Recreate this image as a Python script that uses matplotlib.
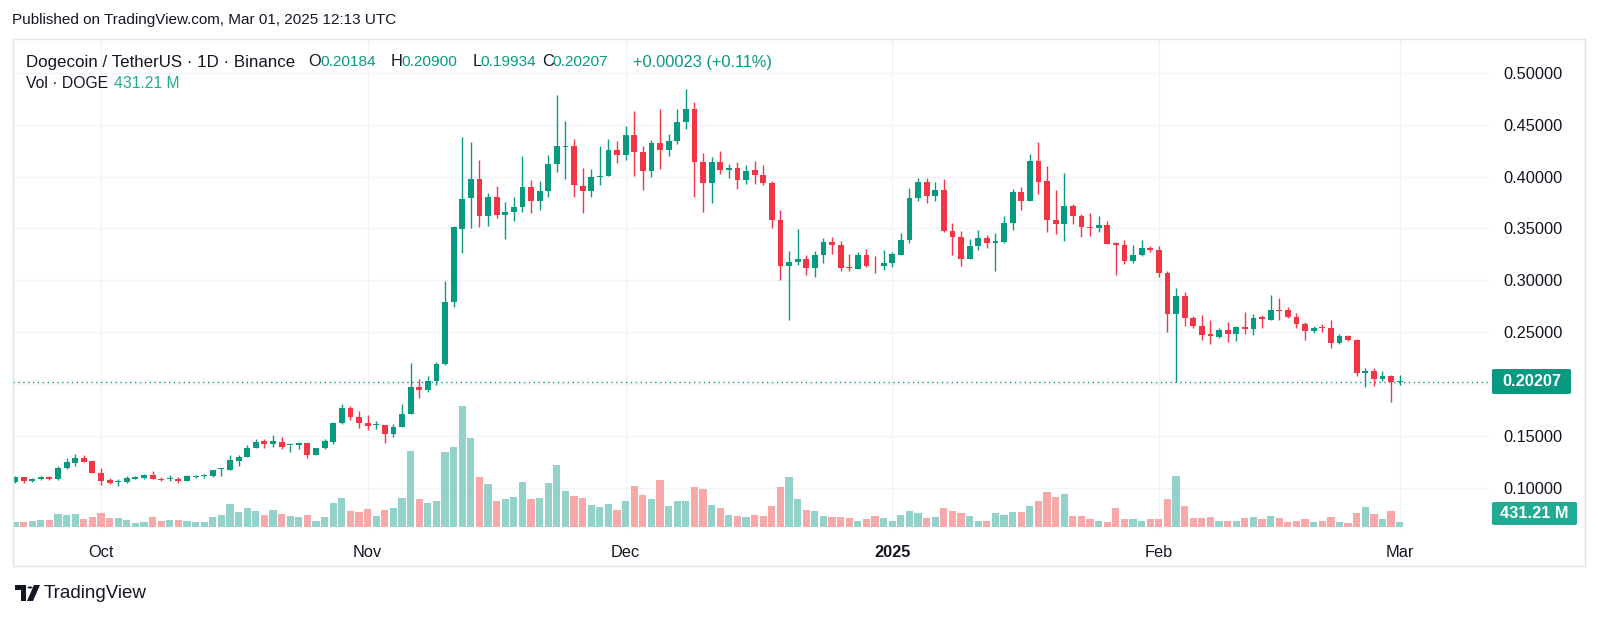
import numpy as np
import pandas as pd
import matplotlib.pyplot as plt
import matplotlib.dates as mdates
from matplotlib.patches import FancyBboxPatch, Rectangle, Circle, Polygon
from matplotlib.ticker import FuncFormatter

plt.rcParams['font.family'] = ['Liberation Sans', 'DejaVu Sans']

# daily DOGE/USDT candles, 2024-09-21 .. 2025-03-01
dates = pd.date_range('2024-09-21', '2025-03-01', freq='D')

opens = [0.1055, 0.1103, 0.1065, 0.1081, 0.1106, 0.1081, 0.1187, 0.1239, 0.1290, 0.1255,
         0.1148, 0.1077, 0.1058, 0.1055, 0.1090, 0.1094, 0.1123, 0.1090, 0.1084, 0.1090,
         0.1065, 0.1106, 0.1116, 0.1119, 0.1181, 0.1177, 0.1259, 0.1298, 0.1381, 0.1449,
         0.1426, 0.1445, 0.1410, 0.1410, 0.1429, 0.1317, 0.1381, 0.1445, 0.1622, 0.1766,
         0.1686, 0.1622, 0.1603, 0.1603, 0.1522, 0.1583, 0.1709, 0.1975, 0.1943, 0.2030,
         0.2197, 0.2787, 0.3497, 0.3793, 0.3979, 0.3619, 0.3806, 0.3629, 0.3658, 0.3703,
         0.3896, 0.3767, 0.3863, 0.4117, 0.4288, 0.4291, 0.3912, 0.3863, 0.3998, 0.4002,
         0.4256, 0.4211, 0.4397, 0.4236, 0.4056, 0.4320, 0.4259, 0.4339, 0.4526, 0.4654,
         0.4138, 0.3933, 0.4138, 0.4058, 0.4084, 0.3969, 0.4058, 0.4010, 0.3937, 0.3578,
         0.3133, 0.3172, 0.3204, 0.3117, 0.3248, 0.3370, 0.3338, 0.3124, 0.3108, 0.3239,
         0.3140, 0.3133, 0.3162, 0.3242, 0.3386, 0.3789, 0.3946, 0.3815, 0.3873, 0.3476,
         0.3421, 0.3204, 0.3328, 0.3405, 0.3357, 0.3373, 0.3550, 0.3847, 0.3761, 0.4148,
         0.3956, 0.3581, 0.3540, 0.3716, 0.3623, 0.3514, 0.3505, 0.3530, 0.3357, 0.3338,
         0.3184, 0.3239, 0.3312, 0.3290, 0.3073, 0.2676, 0.2844, 0.2635, 0.2562, 0.2479,
         0.2454, 0.2524, 0.2483, 0.2549, 0.2530, 0.2644, 0.2619, 0.2717, 0.2714, 0.2651,
         0.2581, 0.2514, 0.2546, 0.2543, 0.2394, 0.2460, 0.2422, 0.2110, 0.2123, 0.2045,
         0.2074, 0.20184]

highs = [0.1110, 0.1106, 0.1094, 0.1116, 0.1116, 0.1213, 0.1290, 0.1329, 0.1313, 0.1255,
         0.1194, 0.1097, 0.1081, 0.1113, 0.1113, 0.1135, 0.1161, 0.1106, 0.1123, 0.1103,
         0.1126, 0.1126, 0.1132, 0.1177, 0.1194, 0.1313, 0.1314, 0.1417, 0.1474, 0.1468,
         0.1506, 0.1494, 0.1415, 0.1445, 0.1436, 0.1388, 0.1468, 0.1635, 0.1808, 0.1789,
         0.1741, 0.1699, 0.1644, 0.1603, 0.1612, 0.1811, 0.2206, 0.2052, 0.2078, 0.2213,
         0.2989, 0.3522, 0.4378, 0.4333, 0.4156, 0.3844, 0.3908, 0.3751, 0.3799, 0.4195,
         0.3963, 0.3953, 0.4204, 0.4789, 0.4532, 0.4365, 0.4082, 0.4072, 0.4291, 0.4365,
         0.4346, 0.4490, 0.4629, 0.4291, 0.4355, 0.4654, 0.4410, 0.4654, 0.4841, 0.4720,
         0.4222, 0.4186, 0.4244, 0.4122, 0.4138, 0.4113, 0.4148, 0.4106, 0.3956, 0.3674,
         0.3284, 0.3498, 0.3242, 0.3284, 0.3412, 0.3418, 0.3380, 0.3252, 0.3277, 0.3300,
         0.3236, 0.3290, 0.3268, 0.3453, 0.3892, 0.3988, 0.3981, 0.3946, 0.3978, 0.3556,
         0.3476, 0.3396, 0.3482, 0.3437, 0.3460, 0.3620, 0.3879, 0.3901, 0.4218, 0.4334,
         0.4097, 0.3870, 0.4029, 0.3735, 0.3642, 0.3645, 0.3617, 0.3572, 0.3370, 0.3386,
         0.3341, 0.3389, 0.3330, 0.3330, 0.3090, 0.2930, 0.2889, 0.2660, 0.2663, 0.2619,
         0.2543, 0.2597, 0.2562, 0.2695, 0.2673, 0.2670, 0.2860, 0.2829, 0.2746, 0.2689,
         0.2597, 0.2556, 0.2575, 0.2619, 0.2479, 0.2473, 0.2438, 0.2158, 0.2152, 0.2123,
         0.2090, 0.20900]

lows = [0.1050, 0.1045, 0.1055, 0.1074, 0.1080, 0.1078, 0.1184, 0.1210, 0.1245, 0.1145,
        0.1032, 0.1035, 0.1016, 0.1052, 0.1081, 0.1090, 0.1081, 0.1068, 0.1071, 0.1045,
        0.1065, 0.1100, 0.1100, 0.1103, 0.1113, 0.1168, 0.1211, 0.1298, 0.1380, 0.1388,
        0.1394, 0.1378, 0.1346, 0.1378, 0.1285, 0.1317, 0.1372, 0.1423, 0.1615, 0.1654,
        0.1580, 0.1558, 0.1564, 0.1436, 0.1490, 0.1583, 0.1709, 0.1869, 0.1927, 0.1991,
        0.2184, 0.2745, 0.3265, 0.3503, 0.3513, 0.3523, 0.3600, 0.3397, 0.3574, 0.3658,
        0.3645, 0.3680, 0.3806, 0.4043, 0.3976, 0.3802, 0.3645, 0.3802, 0.3915, 0.4002,
        0.4130, 0.4162, 0.4005, 0.3873, 0.3995, 0.4069, 0.4198, 0.4313, 0.4458, 0.3802,
        0.3661, 0.3748, 0.4020, 0.3988, 0.3876, 0.3924, 0.3924, 0.3917, 0.3508, 0.3002,
        0.2618, 0.3146, 0.3050, 0.3034, 0.3162, 0.3258, 0.3085, 0.3085, 0.3108, 0.3124,
        0.3069, 0.3098, 0.3130, 0.3242, 0.3364, 0.3764, 0.3748, 0.3761, 0.3470, 0.3245,
        0.3140, 0.3204, 0.3296, 0.3316, 0.3092, 0.3360, 0.3482, 0.3674, 0.3761, 0.3834,
        0.3470, 0.3444, 0.3380, 0.3546, 0.3418, 0.3428, 0.3466, 0.3354, 0.3053, 0.3156,
        0.3168, 0.3233, 0.3270, 0.3035, 0.2502, 0.2019, 0.2559, 0.2540, 0.2429, 0.2390,
        0.2448, 0.2403, 0.2419, 0.2483, 0.2473, 0.2543, 0.2613, 0.2613, 0.2641, 0.2543,
        0.2429, 0.2492, 0.2502, 0.2349, 0.2384, 0.2416, 0.2074, 0.1968, 0.1984, 0.2029,
        0.1829, 0.19934]

closes = [0.1106, 0.1068, 0.1087, 0.1106, 0.1084, 0.1187, 0.1245, 0.1290, 0.1248, 0.1148,
          0.1071, 0.1045, 0.1061, 0.1097, 0.1103, 0.1126, 0.1084, 0.1074, 0.1090, 0.1068,
          0.1113, 0.1119, 0.1126, 0.1171, 0.1187, 0.1265, 0.1298, 0.1381, 0.1445, 0.1426,
          0.1449, 0.1397, 0.1413, 0.1429, 0.1317, 0.1381, 0.1449, 0.1622, 0.1766, 0.1686,
          0.1622, 0.1596, 0.1606, 0.1522, 0.1583, 0.1709, 0.1975, 0.1943, 0.2030, 0.2197,
          0.2787, 0.3510, 0.3786, 0.3979, 0.3619, 0.3806, 0.3632, 0.3658, 0.3703, 0.3896,
          0.3767, 0.3863, 0.4117, 0.4294, 0.4297, 0.3915, 0.3863, 0.3998, 0.4008, 0.4256,
          0.4211, 0.4397, 0.4236, 0.4056, 0.4320, 0.4259, 0.4339, 0.4526, 0.4654, 0.4138,
          0.3933, 0.4138, 0.4058, 0.4084, 0.3969, 0.4055, 0.4010, 0.3937, 0.3578, 0.3133,
          0.3172, 0.3204, 0.3117, 0.3248, 0.3370, 0.3338, 0.3120, 0.3117, 0.3239, 0.3136,
          0.3133, 0.3162, 0.3252, 0.3389, 0.3796, 0.3946, 0.3815, 0.3873, 0.3476, 0.3421,
          0.3204, 0.3328, 0.3405, 0.3357, 0.3380, 0.3553, 0.3847, 0.3761, 0.4148, 0.3949,
          0.3578, 0.3540, 0.3716, 0.3623, 0.3511, 0.3505, 0.3530, 0.3354, 0.3338, 0.3184,
          0.3239, 0.3312, 0.3290, 0.3073, 0.2676, 0.2844, 0.2635, 0.2559, 0.2476, 0.2460,
          0.2524, 0.2486, 0.2552, 0.2530, 0.2641, 0.2625, 0.2714, 0.2708, 0.2651, 0.2581,
          0.2511, 0.2543, 0.2537, 0.2400, 0.2460, 0.2422, 0.2110, 0.2126, 0.2045, 0.2074,
          0.2018, 0.20207]

# volume in millions of DOGE
volumes = [460, 460, 524, 616, 616, 1224, 1132, 1224, 708, 892,
           1288, 800, 800, 616, 368, 460, 892, 552, 644, 644,
           552, 460, 460, 948, 1132, 2116, 1408, 1748, 1500, 1076,
           1564, 1224, 1040, 892, 1132, 552, 892, 2180, 2640, 1472,
           1380, 1656, 984, 1564, 1748, 2640, 7020, 2576, 2180, 2392,
           6872, 7388, 11160, 8188, 4600, 3956, 2392, 2548, 2760, 4140,
           2576, 2668, 4048, 5704, 3340, 2824, 2668, 2024, 1868, 2116,
           1564, 2392, 3772, 2916, 2576, 4324, 1960, 2392, 2392, 3708,
           3524, 2052, 1776, 1150, 1058, 892, 1150, 1058, 1960, 3708,
           4572, 2576, 1564, 1472, 1058, 892, 892, 800, 552, 736,
           984, 810, 598, 1150, 1500, 1316, 810, 892, 1748, 1500,
           1316, 1058, 552, 552, 1316, 1132, 1408, 1408, 1960, 2392,
           3248, 2732, 3064, 1058, 1058, 736, 598, 460, 1748, 736,
           736, 534, 736, 736, 2548, 4720, 1950, 800, 874, 966,
           552, 580, 580, 800, 966, 708, 1058, 800, 506, 580,
           708, 460, 552, 948, 506, 414, 1288, 1840, 1214, 708,
           1454, 431]

price_ticks = [0.10, 0.15, 0.20, 0.25, 0.30, 0.35, 0.40, 0.45, 0.50]
month_starts = ['2024-10-01', '2024-11-01', '2024-12-01', '2025-01-01', '2025-02-01', '2025-03-01']
month_labels = ['Oct', 'Nov', 'Dec', '2025', 'Feb', 'Mar']
last_price = 0.20207

UP = '#089981'
DOWN = '#F23645'
UP_VOL = '#92D2CA'
DOWN_VOL = '#F7A9A9'
TXT = '#131722'
GRID = '#F0F3FA'

W, H = 1600, 618
fig = plt.figure(figsize=(W / 100, H / 100), dpi=100)
fig.patch.set_facecolor('white')


def fx(px):
    return px / W


def fy(py):
    return 1 - py / H


ax = fig.add_axes([fx(13), fy(530), fx(1490) - fx(13), fy(39) - fy(530)])
vax = ax.twinx()

x = mdates.date2num(dates)
o = np.array(opens)
c = np.array(closes)
hi = np.array(highs)
lo = np.array(lows)
up = c >= o
cols = np.where(up, UP, DOWN)

# volume overlay at the bottom of the pane
vcols = np.where(up, UP_VOL, DOWN_VOL)
vax.bar(x, volumes, width=0.84, color=vcols, edgecolor='none')
vax.set_ylim(-3 * 92, 488 * 92)
vax.axis('off')

# candles
ax.vlines(x, lo, hi, colors=cols, linewidth=1, zorder=3)
body = np.maximum(np.abs(c - o), 0.0009)
ax.bar(x, body, bottom=np.minimum(o, c), width=0.68, color=cols, edgecolor='none', zorder=4)

ax.axhline(last_price, color=UP, linestyle=(0, (1, 2.5)), linewidth=1, zorder=2)

ax.set_xlim(x[0] - 0.233, x[0] + 171.5)
ax.set_ylim(0.05944, 0.53247)

ax.set_yticks(price_ticks)
ax.yaxis.set_major_formatter(FuncFormatter(lambda v, p: '' if abs(v - 0.2) < 1e-9 else f'{v:.5f}'))
ax.yaxis.tick_right()
ax.tick_params(axis='y', length=0, pad=9.5, labelsize=11.8, labelcolor=TXT)

mticks = mdates.date2num(pd.to_datetime(month_starts))
ax.set_xticks(mticks)
ax.set_xticklabels(month_labels)
ax.tick_params(axis='x', length=0, pad=11, labelsize=11.8, labelcolor=TXT)
for lab in ax.get_xticklabels():
    if lab.get_text() == '2025':
        lab.set_fontweight('bold')

ax.grid(True, color=GRID, linewidth=1)
ax.set_axisbelow(True)
for s in ax.spines.values():
    s.set_visible(False)

# chart frame
fig.add_artist(Rectangle((fx(13), fy(566)), fx(1585) - fx(13), fy(39) - fy(566),
                         transform=fig.transFigure, fill=False, edgecolor='#E0E3EB', linewidth=1))

# last price and volume labels on the price scale
fig.add_artist(FancyBboxPatch((fx(1492), fy(394)), fx(1571) - fx(1492), fy(369) - fy(394),
                              boxstyle='round,pad=0,rounding_size=0.002', transform=fig.transFigure,
                              facecolor=UP, edgecolor='none'))
fig.text(fx(1531.5), fy(381.5), f'{last_price:.5f}', color='white', fontsize=11.8,
         fontweight='bold', ha='center', va='center')
fig.add_artist(FancyBboxPatch((fx(1492), fy(525)), fx(1577) - fx(1492), fy(502) - fy(525),
                              boxstyle='round,pad=0,rounding_size=0.002', transform=fig.transFigure,
                              facecolor='#22AB94', edgecolor='none'))
fig.text(fx(1534.5), fy(513.5), '431.21 M', color='white', fontsize=11.8,
         fontweight='bold', ha='center', va='center')

# header
fig.text(fx(12), fy(20), 'Published on TradingView.com, Mar 01, 2025 12:13 UTC',
         color=TXT, fontsize=11, va='center')
fig.text(fx(26), fy(62), 'Dogecoin / TetherUS · 1D · Binance', color=TXT, fontsize=12.2, va='center')
ohlc_parts = [(308.5, 'O', '0.20184', 11.5), (391, 'H', '0.20900', 10.5),
              (472.5, 'L', '0.19934', 8), (542, 'C', '0.20207', 10.5)]
for px, k, v, off in ohlc_parts:
    fig.text(fx(px), fy(62), k, color=TXT, fontsize=11.8, va='center')
    fig.text(fx(px + off), fy(62), v, color=UP, fontsize=11.1, va='center')
fig.text(fx(633), fy(62), '+0.00023 (+0.11%)', color=UP, fontsize=11.8, va='center')
fig.text(fx(26), fy(84), 'Vol · DOGE', color=TXT, fontsize=11.3, va='center')
fig.text(fx(114), fy(84), '431.21 M', color='#22AB94', fontsize=11.3, va='center')

# TradingView logo
fig.add_artist(Polygon([[fx(15), fy(585)], [fx(26), fy(585)], [fx(26), fy(601)], [fx(21), fy(601)],
                        [fx(21), fy(590)], [fx(15), fy(590)]], closed=True,
                       transform=fig.transFigure, facecolor=TXT, edgecolor='none'))
fig.add_artist(Circle((fx(30), fy(587.5)), 2.6 / W, transform=fig.transFigure, facecolor=TXT))
fig.add_artist(Polygon([[fx(34), fy(585)], [fx(40), fy(585)], [fx(33), fy(601)], [fx(27), fy(601)]],
                       closed=True, transform=fig.transFigure, facecolor=TXT, edgecolor='none'))
fig.text(fx(44), fy(593), 'TradingView', color=TXT, fontsize=13.5, va='center')

fig.savefig('out.png', dpi=100, facecolor='white')
